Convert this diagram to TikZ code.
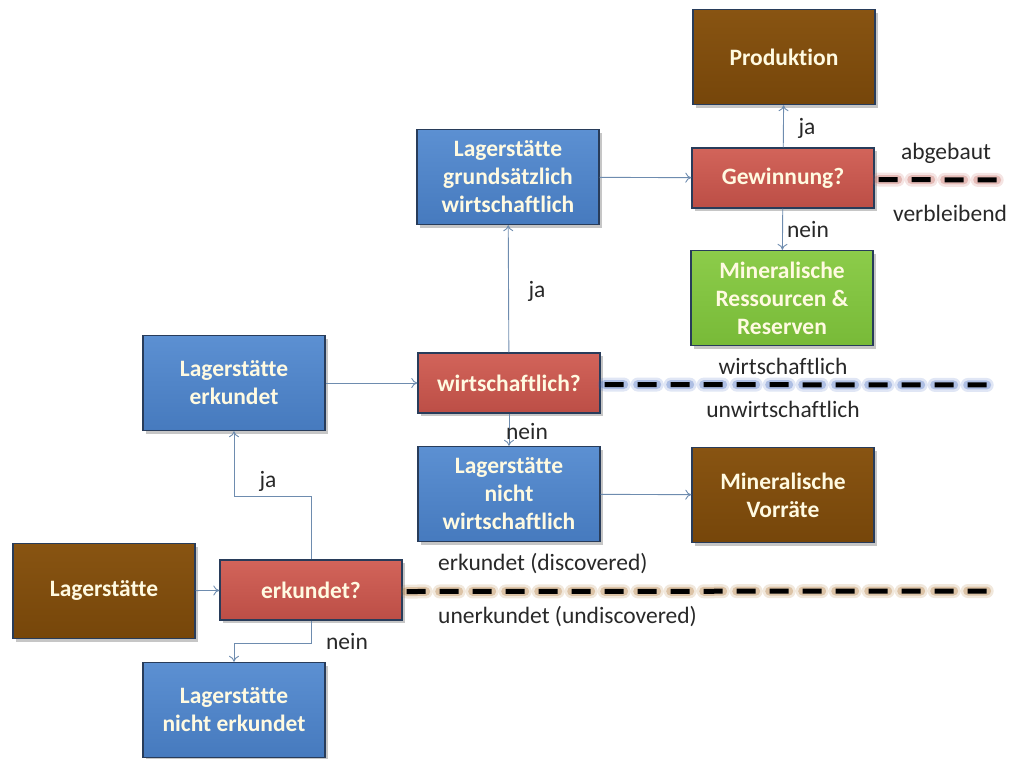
\documentclass[tikz,border=0pt]{standalone}
\usepackage{fontspec}
\setmainfont{Carlito}[Ligatures=NoCommon]
\usetikzlibrary{shadows,arrows.meta}

\definecolor{boxblue}{RGB}{70,122,190}
\definecolor{boxbluelt}{RGB}{92,144,210}
\definecolor{boxred}{RGB}{188,78,70}
\definecolor{boxredlt}{RGB}{210,100,90}
\definecolor{boxbrown}{RGB}{118,70,10}
\definecolor{boxbrownlt}{RGB}{136,84,18}
\definecolor{boxgreen}{RGB}{120,186,56}
\definecolor{boxgreenlt}{RGB}{140,204,74}
\definecolor{edge}{RGB}{40,60,90}
\definecolor{linkcol}{RGB}{110,140,175}
\definecolor{labeltext}{RGB}{40,40,40}
\definecolor{cream}{RGB}{255,250,225}
\definecolor{glowblue}{RGB}{60,100,190}
\definecolor{glowbrown}{RGB}{170,110,40}
\definecolor{glowred}{RGB}{190,90,80}

\tikzset{
  x=1pt, y=-1pt,
  box/.style={draw=edge, line width=1.4pt, minimum width=182pt, minimum height=95pt,
    align=center, inner sep=2pt, text=cream,
    font=\fontsize{23.5}{28}\selectfont\bfseries,
    drop shadow={opacity=0.45, shadow xshift=2.5pt, shadow yshift=-3pt}},
  query/.style={box, minimum height=60pt},
  bluebox/.style={box, top color=boxbluelt, bottom color=boxblue},
  redbox/.style={query, top color=boxredlt, bottom color=boxred},
  brownbox/.style={box, top color=boxbrownlt, bottom color=boxbrown},
  greenbox/.style={box, top color=boxgreenlt, bottom color=boxgreen},
  link/.style={draw=linkcol, line width=0.9pt, -{To[length=6pt,width=10pt]}},
  lbl/.style={text=labeltext, font=\fontsize{23.5}{28}\selectfont, inner sep=1pt},
  glowwide/.style={line width=14pt, line cap=round, opacity=0.16, dash pattern=on 19pt off 14pt},
  glow/.style={line width=9pt, line cap=round, opacity=0.3, dash pattern=on 19pt off 14pt},
  dashline/.style={line width=5pt, black, dash pattern=on 19pt off 14pt},
}

\begin{document}
\begin{tikzpicture}
\useasboundingbox (0,0) rectangle (1012,758);

% boxes
\node[brownbox] (prod) at (784,57) {Produktion};
\node[redbox]   (gew)  at (783,178) {Gewinnung?};
\node[bluebox]  (lgw)  at (508,177) {Lagerstätte\\grundsätzlich\\wirtschaftlich};
\node[greenbox] (mrr)  at (782,298) {Mineralische\\Ressourcen \&\\Reserven};
\node[bluebox]  (lerk) at (234,383) {Lagerstätte\\erkundet};
\node[redbox]   (wirt) at (509,383) {wirtschaftlich?};
\node[bluebox]  (lnw)  at (509,494) {Lagerstätte\\nicht\\wirtschaftlich};
\node[brownbox] (mv)   at (783,495) {Mineralische\\Vorräte};
\node[brownbox] (lag)  at (104,591) {Lagerstätte};
\node[redbox]   (erk)  at (311,590) {erkundet?};
\node[bluebox]  (lne)  at (234,710) {Lagerstätte\\nicht erkundet};

% turning points
\coordinate (jaturn) at (311,496);
\coordinate (neinturn) at (311,643);

% connectors
\draw[link] (lag) -- (erk);
\draw[link] (erk.north) -- (jaturn) -| (lerk.south);
\draw[link] (erk.south) -- (neinturn) -| (lne.north);
\draw[link] (lerk) -- (wirt);
\draw[link] (wirt) -- (lgw);
\draw[link] (wirt) -- (lnw);
\draw[link] (lgw) -- (gew);
\draw[link] (gew) -- (prod);
\draw[link] (gew) -- (mrr);
\draw[link] (lnw) -- (mv);

% boundary lines
\coordinate (gewend) at (1000,180);
\coordinate (wirtend) at (1000,385);
\coordinate (erkend) at (1000,591);
\foreach \src/\dst/\col in {gew/gewend/glowred, wirt/wirtend/glowblue, erk/erkend/glowbrown}{
  \draw[glowwide, \col] ([yshift=-1.5pt]\src.east) ++(4,0) -- (\dst);
  \draw[glow, \col] ([yshift=-1.5pt]\src.east) ++(4,0) -- (\dst);
  \draw[dashline] ([yshift=-1.5pt]\src.east) ++(4,0) -- (\dst);
}

% labels
\node[lbl] (lja1) at (268,481) {ja};
\node[lbl] (lnein1) at (347,641) {nein};
\node[lbl] (lja2) at (537,291) {ja};
\node[lbl] (lnein2) at (527,431) {nein};
\node[lbl] (lja3) at (807,128) {ja};
\node[lbl] (lnein3) at (808,229) {nein};
\node[lbl] (abg) at (946,153) {abgebaut};
\node[lbl] (verb) at (950,213) {verbleibend};
\node[lbl] (wl) at (783,366) {wirtschaftlich};
\node[lbl] (uwl) at (783,409) {unwirtschaftlich};
\node[lbl, anchor=west] (disc) at (437,564) {erkundet (discovered)};
\node[lbl, anchor=west] (undisc) at (437,617) {unerkundet (undiscovered)};
\end{tikzpicture}
\end{document}
